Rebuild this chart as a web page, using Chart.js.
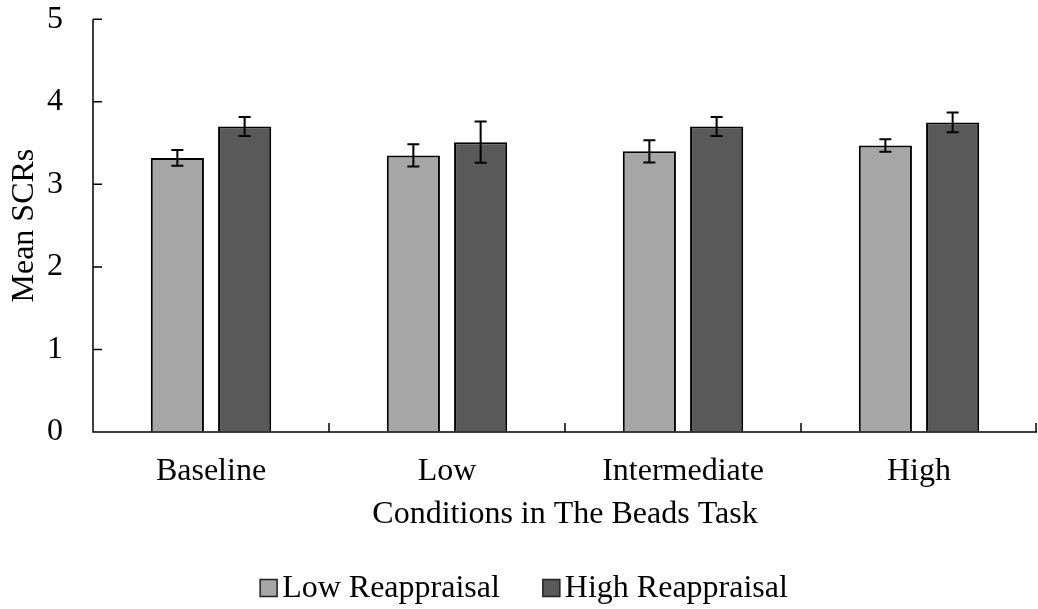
<!DOCTYPE html>
<html>
<head>
<meta charset="utf-8">
<script src="https://cdn.jsdelivr.net/npm/chart.js@4"></script>
<style>
  body { margin: 0; background: #fff; }
  #wrap { width: 1038px; height: 609px; }
</style>
</head>
<body>
<div id="wrap"><canvas id="chart"></canvas></div>
<script>
const categories = ['Baseline', 'Low', 'Intermediate', 'High'];
const lowReappraisal = [3.32, 3.35, 3.40, 3.47];
const highReappraisal = [3.70, 3.51, 3.70, 3.75];
const lowErr = [0.095, 0.135, 0.135, 0.075];
const highErr = [0.115, 0.25, 0.115, 0.12];
const yTicks = [0, 1, 2, 3, 4, 5];

const errors = [lowErr, highErr];
const FONT = "'Liberation Serif', 'Times New Roman', serif";

// error bars, axis lines with inward ticks, and the legend
const extras = {
  id: 'extras',
  afterDatasetsDraw(chart) {
    const ctx = chart.ctx;
    const y = chart.scales.y;
    const x = chart.scales.x;
    ctx.save();
    ctx.strokeStyle = '#000';
    ctx.lineWidth = 2;
    chart.data.datasets.forEach((ds, di) => {
      const meta = chart.getDatasetMeta(di);
      meta.data.forEach((bar, i) => {
        const v = ds.data[i];
        const e = errors[di][i];
        const top = y.getPixelForValue(v + e);
        const bot = y.getPixelForValue(v - e);
        ctx.beginPath();
        ctx.moveTo(bar.x, top);
        ctx.lineTo(bar.x, bot);
        ctx.moveTo(bar.x - 6, top);
        ctx.lineTo(bar.x + 6, top);
        ctx.moveTo(bar.x - 6, bot);
        ctx.lineTo(bar.x + 6, bot);
        ctx.stroke();
      });
    });

    const area = chart.chartArea;
    ctx.lineWidth = 1.5;
    ctx.beginPath();
    ctx.moveTo(area.left, area.top);
    ctx.lineTo(area.left, area.bottom);
    ctx.lineTo(area.right, area.bottom);
    yTicks.forEach(t => {
      const py = y.getPixelForValue(t);
      ctx.moveTo(area.left, py);
      ctx.lineTo(area.left + 9, py);
    });
    for (let i = 1; i <= categories.length; i++) {
      const px = i < categories.length
        ? (x.getPixelForValue(i - 1) + x.getPixelForValue(i)) / 2
        : area.right - 1;
      ctx.moveTo(px, area.bottom);
      ctx.lineTo(px, area.bottom - 9);
    }
    ctx.stroke();

    // legend
    ctx.font = '32px ' + FONT;
    ctx.textBaseline = 'middle';
    const box = 17, gap = 5, itemGap = 43;
    const items = chart.data.datasets.map(ds => ({ ds, w: box + gap + ctx.measureText(ds.label).width }));
    const total = items.reduce((s, it) => s + it.w, 0) + itemGap * (items.length - 1);
    let lx = chart.width / 2 + 5 - total / 2;
    const ly = 588;
    items.forEach(it => {
      ctx.fillStyle = it.ds.backgroundColor;
      ctx.fillRect(lx, ly - box / 2, box, box);
      ctx.lineWidth = 1.5;
      ctx.strokeStyle = '#222';
      ctx.strokeRect(lx, ly - box / 2, box, box);
      ctx.fillStyle = '#000';
      ctx.fillText(it.ds.label, lx + box + gap, ly + 1);
      lx += it.w + itemGap;
    });
    ctx.restore();
  }
};

new Chart(document.getElementById('chart'), {
  type: 'bar',
  data: {
    labels: categories,
    datasets: [
      {
        label: 'Low Reappraisal',
        data: lowReappraisal,
        backgroundColor: '#a6a6a6',
        borderColor: '#000',
        borderWidth: 2,
        categoryPercentage: 0.57,
        barPercentage: 0.79,
      },
      {
        label: 'High Reappraisal',
        data: highReappraisal,
        backgroundColor: '#595959',
        borderColor: '#000',
        borderWidth: 2,
        categoryPercentage: 0.57,
        barPercentage: 0.79,
      },
    ],
  },
  options: {
    responsive: true,
    maintainAspectRatio: false,
    animation: false,
    layout: { padding: { top: 1, right: 1, left: 0, bottom: 67 } },
    scales: {
      x: {
        grid: { display: false, drawTicks: false },
        border: { display: false },
        ticks: { color: '#000', font: { family: FONT, size: 32 }, padding: 20 },
        title: {
          display: true,
          text: 'Conditions in The Beads Task',
          color: '#000',
          font: { family: FONT, size: 32 },
          padding: { top: 0, bottom: 8 },
        },
        afterFit: (s) => { s.height = 110; },
      },
      y: {
        min: 0,
        max: 5,
        grid: {
          display: true,
          drawOnChartArea: false,
          drawTicks: true,
          tickLength: 30,
          color: 'rgba(0,0,0,0)',
        },
        border: { display: false },
        ticks: { stepSize: 1, color: '#000', font: { family: FONT, size: 32 }, padding: 0 },
        title: {
          display: true,
          text: 'Mean SCRs',
          color: '#000',
          font: { family: FONT, size: 32 },
          padding: { top: 5, bottom: 0 },
        },
        afterFit: (s) => { s.width = 93; },
      },
    },
    plugins: {
      tooltip: { enabled: false },
      legend: { display: false },
    },
  },
  plugins: [extras],
});
</script>
</body>
</html>
